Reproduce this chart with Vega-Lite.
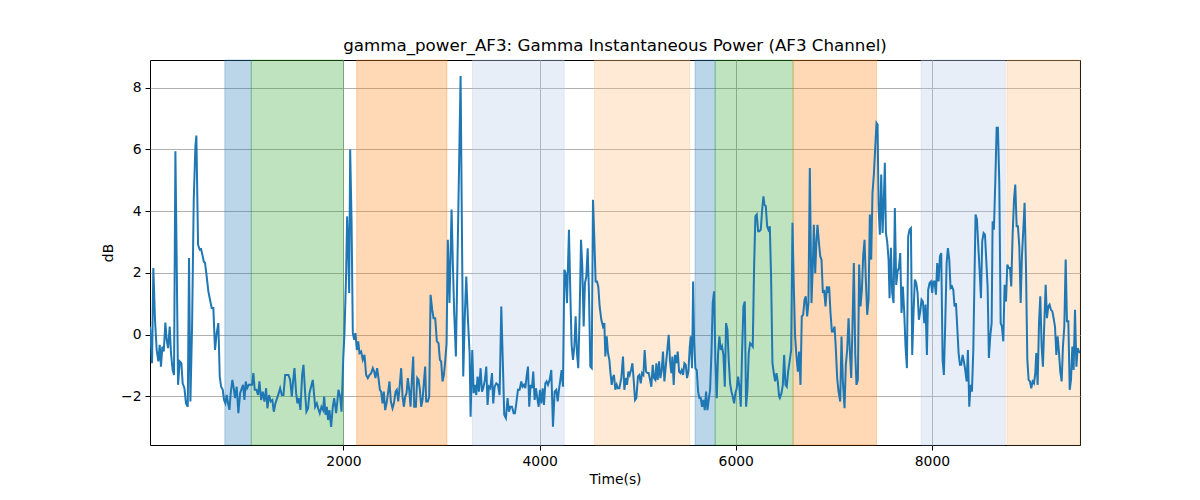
{
  "$schema": "https://vega.github.io/schema/vega-lite/v6.json",
  "width": 930,
  "height": 385,
  "autosize": "none",
  "padding": {"left": 150, "top": 60, "right": 120, "bottom": 55},
  "background": "white",
  "title": {
    "text": "gamma_power_AF3: Gamma Instantaneous Power (AF3 Channel)",
    "font": "DejaVu Sans",
    "fontSize": 16.7,
    "fontWeight": "normal",
    "color": "black",
    "offset": 5
  },
  "datasets": {
    "spans": [
      {"t": 790, "t2": 1060, "kind": "blue"},
      {"t": 1060, "t2": 2000, "kind": "green"},
      {"t": 2135, "t2": 3055, "kind": "orange"},
      {"t": 3315, "t2": 4250, "kind": "lightblue"},
      {"t": 4560, "t2": 5530, "kind": "lightorange"},
      {"t": 5585, "t2": 5790, "kind": "blue"},
      {"t": 5790, "t2": 6585, "kind": "green"},
      {"t": 6585, "t2": 7435, "kind": "orange"},
      {"t": 7890, "t2": 8748, "kind": "lightblue"},
      {"t": 8765, "t2": 9510, "kind": "lightorange"}
    ],
    "power": [
      {"t":27,"v":0.26},{"t":48,"v":-0.93},{"t":61,"v":2.16},{"t":78,"v":0.48},{"t":95,"v":-0.5},{"t":112,"v":-0.87},{"t":126,"v":-0.33},{"t":139,"v":-1.04},{"t":153,"v":-0.39},{"t":167,"v":-0.55},{"t":184,"v":0.39},{"t":197,"v":-0.17},{"t":211,"v":-0.44},{"t":228,"v":0.26},{"t":241,"v":-0.6},{"t":258,"v":-1.15},{"t":272,"v":-1.31},{"t":286,"v":5.94},{"t":299,"v":2.43},{"t":313,"v":-1.63},{"t":330,"v":-0.87},{"t":347,"v":-0.93},{"t":360,"v":-1.58},{"t":378,"v":-1.74},{"t":394,"v":-2.23},{"t":412,"v":-2.34},{"t":425,"v":2.48},{"t":439,"v":-2.17},{"t":456,"v":0.26},{"t":473,"v":4.37},{"t":490,"v":6.11},{"t":500,"v":6.45},{"t":517,"v":2.91},{"t":534,"v":2.75},{"t":548,"v":2.77},{"t":561,"v":2.59},{"t":575,"v":2.37},{"t":588,"v":2.32},{"t":605,"v":1.89},{"t":622,"v":1.4},{"t":639,"v":1.13},{"t":656,"v":0.86},{"t":673,"v":0.86},{"t":690,"v":-0.5},{"t":707,"v":0.05},{"t":724,"v":0.37},{"t":738,"v":-1.36},{"t":752,"v":-1.69},{"t":769,"v":-1.79},{"t":782,"v":-2.12},{"t":796,"v":-2.23},{"t":809,"v":-1.96},{"t":823,"v":-2.23},{"t":837,"v":-2.44},{"t":850,"v":-1.9},{"t":867,"v":-1.47},{"t":881,"v":-1.74},{"t":894,"v":-2.06},{"t":911,"v":-1.69},{"t":928,"v":-2.55},{"t":946,"v":-1.9},{"t":963,"v":-1.74},{"t":976,"v":-1.63},{"t":990,"v":-2.12},{"t":1003,"v":-1.52},{"t":1017,"v":-1.74},{"t":1034,"v":-1.63},{"t":1051,"v":-1.63},{"t":1068,"v":-1.63},{"t":1081,"v":-1.25},{"t":1095,"v":-1.79},{"t":1112,"v":-1.79},{"t":1129,"v":-1.96},{"t":1143,"v":-1.52},{"t":1160,"v":-2.12},{"t":1177,"v":-1.85},{"t":1194,"v":-2.17},{"t":1211,"v":-1.74},{"t":1224,"v":-2.39},{"t":1241,"v":-1.96},{"t":1258,"v":-2.17},{"t":1275,"v":-2.12},{"t":1289,"v":-2.5},{"t":1306,"v":-2.23},{"t":1323,"v":-2.06},{"t":1340,"v":-1.9},{"t":1354,"v":-1.74},{"t":1371,"v":-1.96},{"t":1388,"v":-1.96},{"t":1405,"v":-1.31},{"t":1422,"v":-1.31},{"t":1439,"v":-1.31},{"t":1456,"v":-1.47},{"t":1473,"v":-2.01},{"t":1486,"v":-1.52},{"t":1500,"v":-1.09},{"t":1517,"v":-1.9},{"t":1530,"v":-2.23},{"t":1544,"v":-2.06},{"t":1561,"v":-2.44},{"t":1578,"v":-1.31},{"t":1592,"v":-0.98},{"t":1609,"v":-1.9},{"t":1622,"v":-2.5},{"t":1639,"v":-2.39},
      {"t":1653,"v":-1.9},{"t":1687,"v":-1.47},{"t":1711,"v":-2.34},{"t":1728,"v":-2.23},{"t":1741,"v":-2.39},{"t":1758,"v":-2.55},{"t":1775,"v":-2.34},{"t":1792,"v":-2.45},{"t":1803,"v":-2.01},{"t":1816,"v":-2.6},{"t":1830,"v":-2.34},{"t":1843,"v":-2.77},{"t":1857,"v":-2.45},{"t":1874,"v":-2.99},{"t":1891,"v":-2.34},{"t":1905,"v":-2.06},{"t":1925,"v":-2.55},{"t":1949,"v":-1.79},{"t":1966,"v":-2.01},{"t":1980,"v":-2.5},{"t":1997,"v":-0.82},{"t":2010,"v":0.05},{"t":2027,"v":1.99},{"t":2037,"v":3.83},{"t":2048,"v":2.86},{"t":2058,"v":1.35},{"t":2068,"v":6.0},{"t":2082,"v":3.73},{"t":2095,"v":0.05},{"t":2109,"v":-0.17},{"t":2122,"v":0.05},{"t":2136,"v":-0.5},{"t":2150,"v":-0.22},{"t":2163,"v":-0.6},{"t":2180,"v":-0.55},{"t":2197,"v":-0.82},{"t":2214,"v":-0.66},{"t":2231,"v":-1.31},{"t":2248,"v":-1.41},{"t":2265,"v":-1.31},{"t":2282,"v":-1.25},{"t":2299,"v":-1.09},{"t":2313,"v":-1.2},{"t":2326,"v":-1.41},{"t":2343,"v":-1.09},{"t":2357,"v":-1.41},{"t":2371,"v":-1.79},{"t":2384,"v":-1.85},{"t":2398,"v":-2.23},{"t":2411,"v":-1.85},{"t":2425,"v":-2.45},{"t":2439,"v":-2.23},{"t":2456,"v":-1.85},{"t":2469,"v":-1.52},{"t":2483,"v":-2.17},{"t":2500,"v":-2.39},{"t":2514,"v":-2.23},{"t":2531,"v":-1.85},{"t":2544,"v":-1.79},{"t":2558,"v":-2.17},{"t":2571,"v":-1.74},{"t":2588,"v":-1.09},{"t":2602,"v":-2.01},{"t":2616,"v":-2.34},{"t":2629,"v":-2.01},{"t":2643,"v":-1.9},{"t":2656,"v":-1.41},{"t":2670,"v":-1.79},{"t":2684,"v":-2.34},{"t":2697,"v":-1.47},{"t":2711,"v":-0.71},{"t":2721,"v":-2.34},{"t":2738,"v":-2.34},{"t":2752,"v":-1.41},{"t":2765,"v":-1.47},{"t":2779,"v":-1.79},{"t":2792,"v":-2.34},{"t":2806,"v":-2.12},{"t":2823,"v":-1.41},{"t":2833,"v":-1.04},{"t":2843,"v":-2.17},{"t":2860,"v":-2.17},{"t":2874,"v":-2.01},{"t":2888,"v":1.29},{"t":2905,"v":0.8},{"t":2918,"v":0.53},{"t":2935,"v":0.53},{"t":2952,"v":-0.22},{"t":2969,"v":-0.28},{"t":2983,"v":-0.82},{"t":2996,"v":-0.87},{"t":3010,"v":-1.52},{"t":3024,"v":-1.31},{"t":3037,"v":-0.87},{"t":3051,"v":-0.28},{"t":3064,"v":3.07},{"t":3081,"v":1.02},{"t":3102,"v":4.05},{"t":3115,"v":2.32},{"t":3129,"v":0.7},{"t":3146,"v":-0.71},{"t":3194,"v":8.38},{"t":3207,"v":3.62},{"t":3221,"v":-1.36},{"t":3238,"v":0.7},{"t":3252,"v":1.88},
      {"t":3269,"v":0.48},{"t":3286,"v":-0.6},{"t":3296,"v":-2.66},{"t":3313,"v":-0.5},{"t":3327,"v":-1.9},{"t":3340,"v":-1.63},{"t":3354,"v":-1.96},{"t":3367,"v":-1.36},{"t":3381,"v":-1.85},{"t":3398,"v":-1.09},{"t":3412,"v":-1.85},{"t":3425,"v":-1.74},{"t":3442,"v":-1.47},{"t":3456,"v":-1.04},{"t":3469,"v":-2.28},{"t":3483,"v":-1.69},{"t":3497,"v":-1.74},{"t":3514,"v":-1.25},{"t":3527,"v":-2.23},{"t":3541,"v":-1.69},{"t":3558,"v":-1.58},{"t":3575,"v":-1.63},{"t":3592,"v":-1.96},{"t":3609,"v":0.91},{"t":3626,"v":-1.04},{"t":3639,"v":-2.6},{"t":3656,"v":-2.71},{"t":3673,"v":-2.06},{"t":3687,"v":-2.5},{"t":3701,"v":-2.34},{"t":3718,"v":-2.34},{"t":3735,"v":-2.55},{"t":3748,"v":-2.55},{"t":3762,"v":-2.23},{"t":3779,"v":-1.79},{"t":3796,"v":-1.79},{"t":3813,"v":-1.52},{"t":3826,"v":-1.69},{"t":3840,"v":-1.63},{"t":3854,"v":-1.74},{"t":3867,"v":-1.36},{"t":3881,"v":-1.04},{"t":3894,"v":-2.34},{"t":3908,"v":-1.63},{"t":3922,"v":-1.74},{"t":3935,"v":-1.2},{"t":3949,"v":-2.12},{"t":3962,"v":-1.74},{"t":3976,"v":-2.06},{"t":3990,"v":-2.34},{"t":4003,"v":-1.79},{"t":4017,"v":-2.23},{"t":4031,"v":-1.74},{"t":4044,"v":-2.28},{"t":4058,"v":-1.58},{"t":4071,"v":-1.52},{"t":4085,"v":-1.63},{"t":4102,"v":-1.47},{"t":4119,"v":-1.15},{"t":4136,"v":-2.99},{"t":4153,"v":-1.85},{"t":4170,"v":-1.79},{"t":4184,"v":-2.17},{"t":4197,"v":-1.79},{"t":4211,"v":-1.47},{"t":4224,"v":-1.15},{"t":4238,"v":-1.69},{"t":4252,"v":2.1},{"t":4265,"v":1.99},{"t":4279,"v":1.02},{"t":4299,"v":3.4},{"t":4313,"v":1.35},{"t":4326,"v":-0.33},{"t":4340,"v":-0.82},{"t":4354,"v":-0.39},{"t":4367,"v":0.59},{"t":4381,"v":-0.6},{"t":4394,"v":-1.09},{"t":4408,"v":0.7},{"t":4422,"v":3.07},{"t":4435,"v":2.21},{"t":4449,"v":0.26},{"t":4462,"v":1.67},{"t":4476,"v":1.88},{"t":4490,"v":2.8},{"t":4503,"v":1.35},{"t":4517,"v":-1.04},{"t":4531,"v":-1.09},{"t":4544,"v":4.37},{"t":4558,"v":3.07},{"t":4571,"v":1.72},{"t":4585,"v":1.72},{"t":4598,"v":1.56},{"t":4612,"v":0.91},{"t":4629,"v":0.48},{"t":4646,"v":0.26},{"t":4660,"v":0.37},{"t":4670,"v":-0.71},{"t":4684,"v":-0.06},{"t":4697,"v":-0.6},{"t":4711,"v":-0.82},{"t":4721,"v":-1.2},{"t":4735,"v":-1.63},{"t":4745,"v":-1.41},{"t":4758,"v":-1.31},{"t":4772,"v":-1.79},{"t":4786,"v":-1.63},{"t":4799,"v":-1.74},{"t":4813,"v":-1.74},
      {"t":4833,"v":-1.41},{"t":4850,"v":-0.71},{"t":4864,"v":-1.79},{"t":4878,"v":-1.41},{"t":4891,"v":-1.63},{"t":4905,"v":-1.2},{"t":4918,"v":-1.31},{"t":4932,"v":-1.15},{"t":4946,"v":-0.93},{"t":4959,"v":-1.47},{"t":4973,"v":-2.12},{"t":4986,"v":-2.06},{"t":5003,"v":-1.36},{"t":5017,"v":-1.31},{"t":5031,"v":-1.58},{"t":5044,"v":-1.25},{"t":5058,"v":-1.31},{"t":5071,"v":-0.5},{"t":5085,"v":-1.2},{"t":5099,"v":-1.25},{"t":5112,"v":-1.25},{"t":5126,"v":-1.47},{"t":5139,"v":-1.69},{"t":5153,"v":-0.98},{"t":5167,"v":-1.41},{"t":5180,"v":-1.47},{"t":5190,"v":-0.93},{"t":5204,"v":-1.47},{"t":5218,"v":-0.87},{"t":5231,"v":-1.41},{"t":5245,"v":-1.15},{"t":5258,"v":-0.55},{"t":5272,"v":-1.52},{"t":5286,"v":-1.04},{"t":5299,"v":-0.6},{"t":5316,"v":-0.01},{"t":5330,"v":-0.87},{"t":5343,"v":-1.25},{"t":5354,"v":-0.71},{"t":5367,"v":-1.63},{"t":5381,"v":-0.66},{"t":5395,"v":-0.93},{"t":5408,"v":-0.55},{"t":5422,"v":-1.2},{"t":5435,"v":-1.25},{"t":5449,"v":-1.15},{"t":5463,"v":-1.31},{"t":5476,"v":-0.93},{"t":5490,"v":-0.98},{"t":5503,"v":-1.41},{"t":5517,"v":-1.2},{"t":5531,"v":-0.39},{"t":5541,"v":-0.06},{"t":5554,"v":-1.09},{"t":5565,"v":1.72},{"t":5575,"v":-0.17},{"t":5588,"v":-1.09},{"t":5602,"v":-1.15},{"t":5616,"v":-1.85},{"t":5629,"v":-2.06},{"t":5643,"v":-2.06},{"t":5656,"v":-2.34},{"t":5670,"v":-2.12},{"t":5684,"v":-2.45},{"t":5697,"v":-1.85},{"t":5711,"v":-2.45},{"t":5724,"v":-2.12},{"t":5738,"v":-1.79},{"t":5752,"v":-0.6},{"t":5765,"v":1.02},{"t":5779,"v":1.4},{"t":5792,"v":-0.82},{"t":5806,"v":-2.06},{"t":5820,"v":-0.6},{"t":5833,"v":-0.06},{"t":5847,"v":-0.5},{"t":5860,"v":-0.39},{"t":5874,"v":-0.66},{"t":5888,"v":-1.69},{"t":5901,"v":0.37},{"t":5915,"v":0.15},{"t":5928,"v":-0.82},{"t":5942,"v":-1.58},{"t":5956,"v":-1.85},{"t":5969,"v":-2.01},{"t":5983,"v":-2.23},{"t":5996,"v":-1.9},{"t":6010,"v":-1.74},{"t":6024,"v":-1.36},{"t":6037,"v":-1.69},{"t":6051,"v":-2.34},{"t":6064,"v":-0.6},{"t":6078,"v":0.91},{"t":6092,"v":1.07},{"t":6105,"v":-2.34},{"t":6119,"v":-1.79},{"t":6132,"v":-0.6},{"t":6146,"v":-0.28},{"t":6160,"v":-0.33},{"t":6173,"v":-0.39},{"t":6187,"v":2.21},{"t":6200,"v":3.83},{"t":6214,"v":3.89},{"t":6228,"v":3.35},{"t":6241,"v":3.35},{"t":6255,"v":3.4},{"t":6269,"v":4.05},{"t":6282,"v":4.48},{"t":6292,"v":4.21},{"t":6306,"v":4.16},{"t":6320,"v":3.51},{"t":6333,"v":3.4},{"t":6347,"v":3.51},{"t":6360,"v":1.88},{"t":6374,"v":-0.93},{"t":6388,"v":-1.25},{"t":6401,"v":-1.52},{"t":6415,"v":-1.25},{"t":6428,"v":-1.52},{"t":6442,"v":-2.01},
      {"t":6449,"v":-2.06},{"t":6466,"v":-1.9},{"t":6480,"v":-1.63},{"t":6493,"v":-0.66},{"t":6507,"v":-1.63},{"t":6520,"v":-1.69},{"t":6534,"v":-1.2},{"t":6551,"v":-0.82},{"t":6565,"v":-0.5},{"t":6578,"v":3.62},{"t":6592,"v":1.56},{"t":6605,"v":-0.06},{"t":6619,"v":-0.71},{"t":6633,"v":-1.2},{"t":6646,"v":-0.55},{"t":6660,"v":-1.63},{"t":6673,"v":0.59},{"t":6687,"v":0.64},{"t":6701,"v":1.13},{"t":6714,"v":1.24},{"t":6728,"v":0.59},{"t":6741,"v":1.02},{"t":6755,"v":5.4},{"t":6772,"v":1.02},{"t":6786,"v":2.27},{"t":6796,"v":3.56},{"t":6810,"v":1.99},{"t":6823,"v":3.07},{"t":6833,"v":3.56},{"t":6847,"v":3.02},{"t":6861,"v":2.54},{"t":6874,"v":2.43},{"t":6888,"v":1.35},{"t":6901,"v":1.45},{"t":6915,"v":0.91},{"t":6929,"v":1.56},{"t":6942,"v":1.35},{"t":6952,"v":1.56},{"t":6966,"v":0.7},{"t":6980,"v":0.1},{"t":6993,"v":0.1},{"t":7007,"v":0.26},{"t":7020,"v":-0.44},{"t":7034,"v":-1.41},{"t":7048,"v":-1.85},{"t":7065,"v":-2.17},{"t":7078,"v":-0.06},{"t":7092,"v":-1.52},{"t":7109,"v":-2.39},{"t":7122,"v":-0.98},{"t":7136,"v":-0.5},{"t":7150,"v":0.53},{"t":7163,"v":-0.5},{"t":7177,"v":-1.41},{"t":7190,"v":0.26},{"t":7204,"v":2.32},{"t":7218,"v":-0.6},{"t":7231,"v":-1.63},{"t":7245,"v":-1.47},{"t":7258,"v":2.27},{"t":7272,"v":0.91},{"t":7286,"v":1.45},{"t":7299,"v":2.54},{"t":7313,"v":3.07},{"t":7326,"v":1.78},{"t":7340,"v":0.64},{"t":7354,"v":1.13},{"t":7367,"v":3.89},{"t":7381,"v":2.43},{"t":7394,"v":4.59},{"t":7408,"v":5.19},{"t":7422,"v":6.06},{"t":7435,"v":6.86},{"t":7446,"v":6.81},{"t":7456,"v":4.16},{"t":7469,"v":3.24},{"t":7483,"v":5.19},{"t":7497,"v":3.29},{"t":7510,"v":4.43},{"t":7520,"v":5.57},{"t":7531,"v":3.29},{"t":7544,"v":3.02},{"t":7558,"v":2.43},{"t":7568,"v":1.18},{"t":7582,"v":2.81},{"t":7595,"v":1.35},{"t":7609,"v":1.02},{"t":7622,"v":4.1},{"t":7636,"v":1.61},{"t":7650,"v":2.05},{"t":7663,"v":2.16},{"t":7677,"v":2.64},{"t":7690,"v":0.7},{"t":7704,"v":1.56},{"t":7718,"v":0.7},{"t":7731,"v":-0.39},{"t":7745,"v":-1.09},{"t":7758,"v":3.18},{"t":7772,"v":3.4},{"t":7786,"v":3.45},{"t":7799,"v":-0.66},{"t":7813,"v":0.75},{"t":7826,"v":1.78},{"t":7840,"v":1.67},{"t":7854,"v":1.35},{"t":7867,"v":0.48},{"t":7881,"v":0.75},{"t":7894,"v":1.13},{"t":7908,"v":1.07},{"t":7922,"v":0.37},{"t":7935,"v":0.97},{"t":7949,"v":-0.66},{"t":7962,"v":1.45},{"t":7976,"v":1.67},
      {"t":7990,"v":1.72},{"t":8003,"v":1.35},{"t":8014,"v":1.72},{"t":8027,"v":1.72},{"t":8041,"v":1.29},{"t":8054,"v":2.32},{"t":8068,"v":1.72},{"t":8082,"v":2.54},{"t":8095,"v":2.64},{"t":8109,"v":-0.82},{"t":8122,"v":-1.31},{"t":8136,"v":0.37},{"t":8150,"v":2.32},{"t":8163,"v":2.8},{"t":8177,"v":2.43},{"t":8190,"v":1.51},{"t":8204,"v":1.56},{"t":8218,"v":1.45},{"t":8231,"v":0.91},{"t":8245,"v":1.02},{"t":8258,"v":0.26},{"t":8272,"v":-0.6},{"t":8286,"v":-0.98},{"t":8299,"v":-0.98},{"t":8313,"v":-0.66},{"t":8326,"v":-0.87},{"t":8340,"v":-1.15},{"t":8354,"v":-1.52},{"t":8367,"v":-0.5},{"t":8381,"v":-2.34},{"t":8394,"v":-1.63},{"t":8408,"v":-1.85},{"t":8422,"v":-0.5},{"t":8435,"v":1.99},{"t":8445,"v":3.89},{"t":8459,"v":3.73},{"t":8473,"v":2.86},{"t":8486,"v":2.1},{"t":8500,"v":1.18},{"t":8513,"v":3.02},{"t":8527,"v":3.29},{"t":8541,"v":3.24},{"t":8554,"v":2.43},{"t":8568,"v":1.56},{"t":8581,"v":-0.76},{"t":8595,"v":-0.06},{"t":8609,"v":0.37},{"t":8619,"v":3.67},{"t":8632,"v":3.4},{"t":8646,"v":4.92},{"t":8660,"v":6.7},{"t":8673,"v":6.7},{"t":8687,"v":4.92},{"t":8701,"v":0.37},{"t":8714,"v":0.26},{"t":8728,"v":-0.22},{"t":8741,"v":1.61},{"t":8755,"v":1.07},{"t":8769,"v":2.27},{"t":8782,"v":2.16},{"t":8796,"v":2.16},{"t":8809,"v":1.56},{"t":8823,"v":3.24},{"t":8837,"v":4.37},{"t":8850,"v":4.86},{"t":8864,"v":3.51},{"t":8877,"v":3.51},{"t":8891,"v":2.86},{"t":8905,"v":1.02},{"t":8918,"v":2.54},{"t":8932,"v":3.4},{"t":8945,"v":4.27},{"t":8959,"v":2.21},{"t":8973,"v":-0.82},{"t":8986,"v":-1.47},{"t":9000,"v":-1.52},{"t":9013,"v":-1.74},{"t":9027,"v":-1.52},{"t":9041,"v":-1.58},{"t":9054,"v":-1.25},{"t":9064,"v":-0.6},{"t":9078,"v":-1.63},{"t":9092,"v":0.37},{"t":9105,"v":1.24},{"t":9119,"v":-0.39},{"t":9132,"v":-1.04},{"t":9146,"v":0.37},{"t":9160,"v":1.61},{"t":9173,"v":0.53},{"t":9187,"v":0.91},{"t":9200,"v":0.97},{"t":9214,"v":0.8},{"t":9228,"v":0.75},{"t":9241,"v":0.53},{"t":9255,"v":0.26},{"t":9269,"v":-0.66},{"t":9282,"v":-0.06},{"t":9296,"v":-0.6},{"t":9309,"v":-1.2},{"t":9323,"v":-1.52},{"t":9336,"v":-0.39},{"t":9350,"v":0.26},{"t":9364,"v":2.43},{"t":9377,"v":0.43},{"t":9391,"v":0.43},{"t":9405,"v":-1.79},{"t":9418,"v":-1.47},{"t":9432,"v":-0.39},{"t":9445,"v":-1.15},{"t":9459,"v":0.8},{"t":9473,"v":-1.04},{"t":9486,"v":-0.44},{"t":9500,"v":-0.55},{"t":9510,"v":-0.6}
    ]
  },
  "layer": [
    {
      "data": {"name": "spans"},
      "mark": {"type": "rect", "fillOpacity": 0.3, "strokeOpacity": 0.3, "strokeWidth": 1},
      "encoding": {
        "x": {
          "field": "t",
          "type": "quantitative",
          "scale": {"domain": [27, 9510], "nice": false, "zero": false},
          "axis": {"title": "Time(s)", "values": [2000, 4000, 6000, 8000], "format": "d"}
        },
        "x2": {"field": "t2"},
        "color": {
          "field": "kind",
          "type": "nominal",
          "scale": {
            "domain": ["blue", "green", "orange", "lightblue", "lightorange"],
            "range": ["#1f77b4", "#2ca02c", "#ff7f0e", "#aec7e8", "#ffbb78"]
          },
          "legend": null
        },
        "stroke": {
          "field": "kind",
          "type": "nominal",
          "scale": {
            "domain": ["blue", "green", "orange", "lightblue", "lightorange"],
            "range": ["#1f77b4", "#2ca02c", "#ff7f0e", "#aec7e8", "#ffbb78"]
          },
          "legend": null
        }
      }
    },
    {
      "data": {"name": "power"},
      "mark": {"type": "line", "color": "#1f77b4", "strokeWidth": 2, "clip": true},
      "encoding": {
        "x": {
          "field": "t",
          "type": "quantitative",
          "axis": {"title": "Time(s)", "values": [2000, 4000, 6000, 8000], "format": "d"}
        },
        "y": {
          "field": "v",
          "type": "quantitative",
          "scale": {"domain": [-3.58, 8.9], "nice": false, "zero": false},
          "axis": {"title": "dB", "values": [-2, 0, 2, 4, 6, 8]}
        }
      }
    }
  ],
  "config": {
    "view": {"stroke": "black", "strokeWidth": 1},
    "axis": {
      "domain": false,
      "grid": true,
      "gridColor": "#b0b0b0",
      "gridWidth": 1,
      "gridOpacity": 1,
      "tickColor": "black",
      "tickSize": 5,
      "tickWidth": 1,
      "labelFont": "DejaVu Sans",
      "labelFontSize": 13.9,
      "labelColor": "black",
      "labelPadding": 4,
      "labelFlush": false,
      "labelOverlap": false,
      "titleFont": "DejaVu Sans",
      "titleFontSize": 13.9,
      "titleFontWeight": "normal",
      "titleColor": "black",
      "titlePadding": 5
    }
  }
}
